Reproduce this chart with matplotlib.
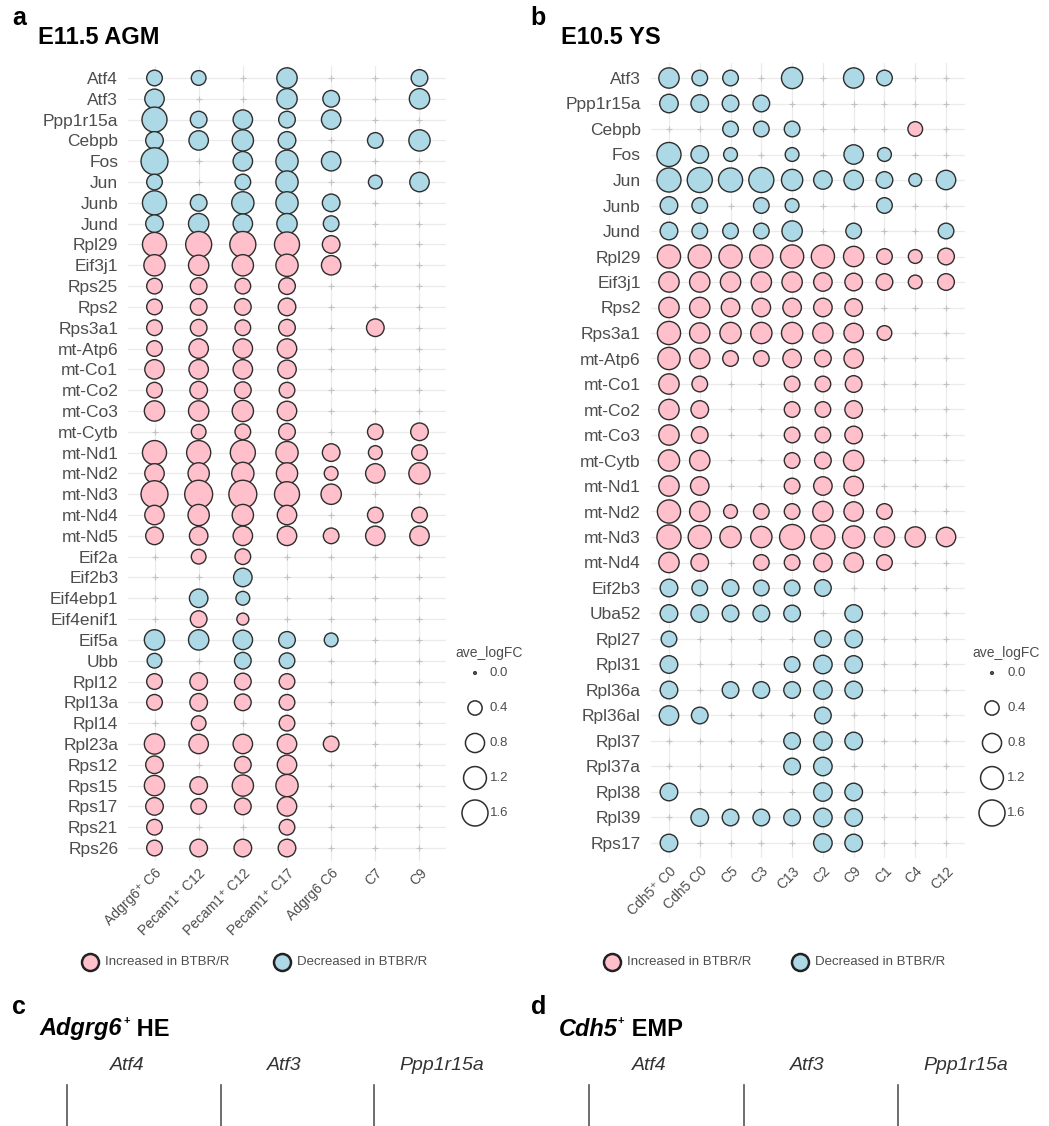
import numpy as np
import matplotlib.pyplot as plt

plt.rcParams['font.family'] = ['Liberation Sans', 'DejaVu Sans']

W, H = 1049, 1126
PINK = '#FFC0CB'
BLUE = '#ADD8E6'
EDGE = '#2e2e2e'
GREY = '#4d4d4d'
n = None

# ---------------- panel a: E11.5 AGM (positive = increased, negative = decreased)
agm_clusters = ['Adgrg6⁺ C6', 'Pecam1⁺ C12', 'Pecam1⁺ C12', 'Pecam1⁺ C17', 'Adgrg6 C6', 'C7', 'C9']
agm_genes = ['Atf4', 'Atf3', 'Ppp1r15a', 'Cebpb', 'Fos', 'Jun', 'Junb', 'Jund', 'Rpl29', 'Eif3j1',
             'Rps25', 'Rps2', 'Rps3a1', 'mt-Atp6', 'mt-Co1', 'mt-Co2', 'mt-Co3', 'mt-Cytb', 'mt-Nd1',
             'mt-Nd2', 'mt-Nd3', 'mt-Nd4', 'mt-Nd5', 'Eif2a', 'Eif2b3', 'Eif4ebp1', 'Eif4enif1', 'Eif5a',
             'Ubb', 'Rpl12', 'Rpl13a', 'Rpl14', 'Rpl23a', 'Rps12', 'Rps15', 'Rps17', 'Rps21', 'Rps26']
agm_logfc = [
    [-0.50, -0.43, n, -0.92, n, n, -0.58],
    [-0.83, n, n, -0.92, -0.58, n, -0.92],
    [-1.47, -0.58, -0.83, -0.58, -0.83, n, n],
    [-0.66, -0.83, -1.02, -0.66, n, -0.50, -1.02],
    [-1.73, n, -0.83, -1.13, -0.83, n, n],
    [-0.50, n, -0.50, -1.13, n, -0.37, -0.83],
    [-1.35, -0.58, -1.13, -1.13, -0.66, n, n],
    [-0.66, -0.92, -0.83, -0.92, -0.50, n, n],
    [1.35, 1.60, 1.60, 1.47, 0.66, n, n],
    [1.02, 0.92, 1.02, 1.13, 0.83, n, n],
    [0.50, 0.58, 0.50, 0.58, n, n, n],
    [0.50, 0.58, 0.58, 0.66, n, n, n],
    [0.50, 0.58, 0.50, 0.58, n, 0.66, n],
    [0.50, 0.83, 0.83, 0.83, n, n, n],
    [0.83, 0.83, 0.83, 0.74, n, n, n],
    [0.50, 0.66, 0.58, 0.50, n, n, n],
    [0.92, 0.92, 1.02, 0.83, n, n, n],
    [n, 0.43, 0.50, 0.58, n, 0.50, 0.66],
    [1.35, 1.35, 1.47, 1.13, 0.66, 0.37, 0.50],
    [0.83, 1.02, 1.13, 1.02, 0.37, 0.83, 1.02],
    [1.73, 1.87, 1.87, 1.47, 0.92, n, n],
    [0.83, 1.02, 1.02, 0.83, n, 0.50, 0.50],
    [0.66, 0.74, 0.83, 0.83, 0.50, 0.83, 0.83],
    [n, 0.43, 0.50, n, n, n, n],
    [n, n, -0.74, n, n, n, n],
    [n, -0.74, -0.37, n, n, n, n],
    [n, 0.58, 0.26, n, n, n, n],
    [-0.92, -0.92, -0.83, -0.58, -0.37, n, n],
    [-0.43, n, -0.58, -0.50, n, n, n],
    [0.50, 0.66, 0.58, 0.50, n, n, n],
    [0.50, 0.66, 0.58, 0.50, n, n, n],
    [n, 0.43, n, 0.50, n, n, n],
    [0.92, 0.83, 0.83, 0.83, 0.50, n, n],
    [0.66, n, 0.58, 0.83, n, n, n],
    [0.92, 0.66, 1.02, 1.13, n, n, n],
    [0.66, 0.50, 0.58, 0.83, n, n, n],
    [0.50, n, n, 0.50, n, n, n],
    [0.50, 0.66, 0.66, 0.66, n, n, n],
]

# ---------------- panel b: E10.5 YS
ys_clusters = ['Cdh5⁺ C0', 'Cdh5 C0', 'C5', 'C3', 'C13', 'C2', 'C9', 'C1', 'C4', 'C12']
ys_genes = ['Atf3', 'Ppp1r15a', 'Cebpb', 'Fos', 'Jun', 'Junb', 'Jund', 'Rpl29', 'Eif3j1', 'Rps2',
            'Rps3a1', 'mt-Atp6', 'mt-Co1', 'mt-Co2', 'mt-Co3', 'mt-Cytb', 'mt-Nd1', 'mt-Nd2', 'mt-Nd3',
            'mt-Nd4', 'Eif2b3', 'Uba52', 'Rpl27', 'Rpl31', 'Rpl36a', 'Rpl36al', 'Rpl37', 'Rpl37a',
            'Rpl38', 'Rpl39', 'Rps17']
ys_logfc = [
    [-0.92, -0.50, -0.50, n, -1.02, n, -0.92, -0.50, n, n],
    [-0.74, -0.66, -0.58, -0.58, n, n, n, n, n, n],
    [n, n, -0.50, -0.50, -0.50, n, n, n, 0.43, n],
    [-1.35, -0.66, -0.37, n, -0.37, n, -0.83, -0.37, n, n],
    [-1.35, -1.47, -1.35, -1.47, -1.02, -0.74, -0.83, -0.58, -0.31, -0.83],
    [-0.66, -0.50, n, -0.50, -0.37, n, n, -0.50, n, n],
    [-0.66, -0.50, -0.50, -0.50, -0.92, n, -0.50, n, n, -0.50],
    [1.24, 1.24, 1.24, 1.24, 1.24, 1.24, 0.92, 0.50, 0.37, 0.58],
    [0.92, 0.92, 0.92, 0.92, 0.92, 0.74, 0.66, 0.58, 0.37, 0.58],
    [0.92, 0.92, 0.74, 0.74, 0.74, 0.74, 0.66, n, n, n],
    [1.24, 0.92, 1.02, 1.02, 1.02, 0.92, 0.83, 0.43, n, n],
    [1.13, 0.92, 0.50, 0.50, 0.74, 0.58, 0.83, n, n, n],
    [0.92, 0.50, n, n, 0.50, 0.50, 0.58, n, n, n],
    [0.92, 0.66, n, n, 0.50, 0.50, 0.66, n, n, n],
    [0.92, 0.58, n, n, 0.50, 0.50, 0.66, n, n, n],
    [1.02, 0.92, n, n, 0.50, 0.58, 0.92, n, n, n],
    [0.92, 0.74, n, n, 0.50, 0.74, 0.83, n, n, n],
    [1.24, 0.92, 0.37, 0.50, 0.50, 0.92, 0.83, 0.50, n, n],
    [1.35, 1.24, 1.02, 1.02, 1.47, 1.35, 1.13, 0.92, 0.92, 0.83],
    [0.92, 0.66, n, 0.50, 0.50, 0.74, 0.83, 0.50, n, n],
    [-0.66, -0.50, -0.58, -0.50, -0.50, -0.58, n, n, n, n],
    [-0.66, -0.66, -0.58, -0.58, -0.58, n, -0.66, n, n, n],
    [-0.50, n, n, n, n, -0.58, -0.66, n, n, n],
    [-0.66, n, n, n, -0.50, -0.74, -0.66, n, n, n],
    [-0.66, n, -0.58, -0.58, -0.58, -0.74, -0.66, n, n, n],
    [-0.83, -0.58, n, n, n, -0.58, n, n, n, n],
    [n, n, n, n, -0.58, -0.74, -0.66, n, n, n],
    [n, n, n, n, -0.58, -0.74, n, n, n, n],
    [-0.66, n, n, n, n, -0.74, -0.66, n, n, n],
    [n, -0.66, -0.58, -0.58, -0.58, -0.74, -0.66, n, n, n],
    [-0.66, n, n, n, n, -0.74, -0.66, n, n, n],
]

legend_values = [0.0, 0.4, 0.8, 1.2, 1.6]
legend_labels = ['0.0', '0.4', '0.8', '1.2', '1.6']
facet_genes = ['Atf4', 'Atf3', 'Ppp1r15a']


def fx(px):
    return px / W


def fy(px):
    return 1 - px / H


def dot_size(v):
    # area scale: diameter grows with sqrt of |logFC| (px -> pt at 100 dpi)
    d_px = 2.5 + 23.5 * np.sqrt(np.abs(v) / 1.6)
    return (d_px * 0.72) ** 2


def dotplot(ax, genes, clusters, vals):
    vals = np.array(vals, dtype=float)
    ng, nc = vals.shape
    xx, yy = np.meshgrid(np.arange(nc), np.arange(ng))
    ax.scatter(xx.ravel(), yy.ravel(), marker='+', s=18, c='#c2c2c2', linewidths=0.8, zorder=1)
    ok = ~np.isnan(vals)
    cols = np.where(vals > 0, PINK, BLUE)
    ax.scatter(xx[ok], yy[ok], s=dot_size(vals[ok]), c=list(cols[ok]),
               edgecolors=EDGE, linewidths=1.0, zorder=3)
    ax.set_xlim(-0.6, nc - 0.4)
    ax.set_ylim(ng - 0.4, -0.6)
    ax.set_xticks(range(nc))
    ax.set_xticklabels(clusters, rotation=45, ha='right', va='top',
                       rotation_mode='anchor', fontsize=10, color=GREY)
    ax.set_yticks(range(ng))
    ax.set_yticklabels(genes, fontsize=12.5, color=GREY)
    ax.tick_params(axis='y', length=0, pad=7)
    ax.tick_params(axis='x', length=0, pad=4)
    ax.grid(True, color='#ebebeb', lw=0.9)
    ax.set_axisbelow(True)
    for s in ax.spines.values():
        s.set_visible(False)


def size_legend(x0):
    lax = fig.add_axes([fx(x0), fy(830), fx(100), (830 - 638) / H])
    lax.set_xlim(0, 100)
    lax.set_ylim((830 - 673) / 35, (638 - 673) / 35)
    lax.axis('off')
    idx = np.arange(len(legend_values))
    lax.scatter(np.full(len(idx), 35), idx, s=dot_size(np.array(legend_values)),
                facecolors='none', edgecolors=EDGE, linewidths=1.1)
    for i, lab in zip(idx, legend_labels):
        lax.text(50, i, lab, fontsize=9.5, color=GREY, va='center', ha='left')
    lax.text(15, -0.57, 'ave_logFC', fontsize=10, color=GREY, va='center', ha='left')


def dir_legend(x_pink, x_blue):
    lax = fig.add_axes([fx(x_pink - 20), fy(980), fx(x_blue - x_pink + 200), 36 / H])
    lax.set_xlim(x_pink - 20, x_blue + 180)
    lax.set_ylim(-1, 1)
    lax.axis('off')
    for xc, col, lab in [(x_pink, PINK, 'Increased in BTBR/R'), (x_blue, BLUE, 'Decreased in BTBR/R')]:
        lax.scatter([xc], [0], s=(17 * 0.72) ** 2, c=col, edgecolors='#222222', linewidths=1.8)
        lax.text(xc + 15, 0, lab, fontsize=9.5, color=GREY, va='center', ha='left')


fig = plt.figure(figsize=(W / 100, H / 100), dpi=100)

axa = fig.add_axes([fx(128), fy(860.5), fx(318), (860.5 - 65.5) / H])
dotplot(axa, agm_genes, agm_clusters, agm_logfc)
axb = fig.add_axes([fx(650.5), fy(858.3), fx(314), (858.3 - 62.7) / H])
dotplot(axb, ys_genes, ys_clusters, ys_logfc)

size_legend(440)
size_legend(957)
dir_legend(90, 282)
dir_legend(612, 800)

# panel letters and titles
fig.text(fx(12), fy(18), 'a', fontsize=18, weight='bold', va='center')
fig.text(fx(38), fy(38), 'E11.5 AGM', fontsize=17, weight='bold', va='center')
fig.text(fx(530), fy(18), 'b', fontsize=18, weight='bold', va='center')
fig.text(fx(561), fy(38), 'E10.5 YS', fontsize=17, weight='bold', va='center')

fig.text(fx(12), fy(1007), 'c', fontsize=18, weight='bold', va='center')
fig.text(fx(39), fy(1029), 'Adgrg6', fontsize=17, weight='bold', style='italic', va='center')
fig.text(fx(123), fy(1021), '+', fontsize=8, weight='bold', va='center')
fig.text(fx(130), fy(1029), ' HE', fontsize=17, weight='bold', va='center')
fig.text(fx(531), fy(1007), 'd', fontsize=18, weight='bold', va='center')
fig.text(fx(559), fy(1029), 'Cdh5', fontsize=17, weight='bold', style='italic', va='center')
fig.text(fx(618), fy(1021), '+', fontsize=8, weight='bold', va='center')
fig.text(fx(625), fy(1029), ' EMP', fontsize=17, weight='bold', va='center')

# panels c/d: top of the facet rows (cut off at the bottom of the figure)
for x_start, step in [(67, 153.5), (589, 154.5)]:
    for i, g in enumerate(facet_genes):
        xl = x_start + i * step
        fax = fig.add_axes([fx(xl), -0.2, fx(140), (H - 1085) / H + 0.2])
        fax.set_xticks([])
        fax.set_yticks([])
        for side in ['top', 'right', 'bottom']:
            fax.spines[side].set_visible(False)
        fax.spines['left'].set_color('#555555')
        fax.spines['left'].set_linewidth(1.2)
        fig.text(fx(xl + 60 + 4 * i), fy(1065), g, fontsize=14, style='italic',
                 color='#333333', ha='center', va='center')

fig.savefig('out.png', dpi=100, facecolor='white')
